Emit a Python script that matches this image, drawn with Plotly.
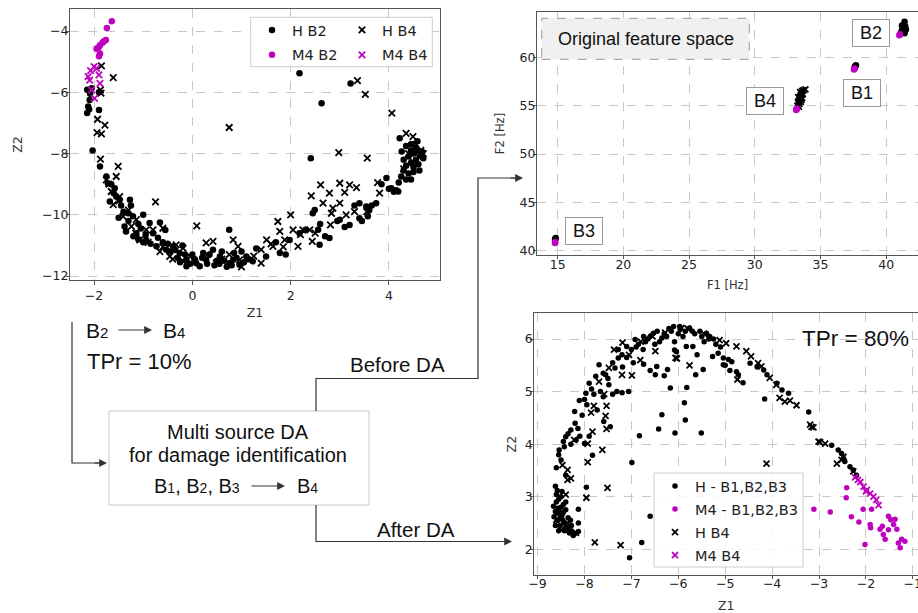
import plotly.graph_objects as go

# ---------------- Panel A : B2 -> B4, TPr = 10% ----------------
a_h_b2 = [(-2.10,-5.95),(-2.14,-5.92),(-2.05,-5.87),(-2.09,-6.25),(-2.12,-6.46),(-2.14,-6.68),(-2.10,-6.55),
          (-2.08,-6.05),(-1.90,-6.58),(-2.03,-7.90),(-1.88,-8.42),(-1.90,-6.00),
          (-1.75,-8.75),(-1.72,-8.97),(-1.58,-9.13),(-1.68,-9.57),(-1.48,-9.51),(-1.27,-9.51),(-1.31,-9.95),
          (-1.21,-10.05),(-1.00,-10.00),(-1.38,-10.38),(-1.14,-10.60),(-0.87,-10.27),(-0.66,-10.25),(-0.94,-10.82),
          (-0.73,-11.03),(-0.53,-11.14),(-0.39,-11.03),(-0.26,-11.25),(-0.12,-11.47),(0.08,-11.58),(0.22,-11.25),
          (0.42,-11.14),(0.56,-11.36),(0.76,-11.58),(0.96,-11.63),(1.10,-11.36),(0.75,-10.49),(0.15,-11.68),
          (-0.12,-11.68),(0.28,-11.47),(0.83,-11.47),(1.23,-11.52),(1.50,-11.36),(1.78,-11.25),(1.98,-10.82),
          (2.18,-10.60),(2.45,-9.95),(2.49,-9.84),(2.56,-10.49),(2.59,-10.98),(2.79,-10.76),(3.00,-10.16),
          (3.20,-10.33),(3.40,-10.11),(3.40,-9.62),(3.57,-10.05),(3.54,-9.73),(3.74,-9.62),(3.95,-8.80),
          (4.05,-9.13),(4.19,-9.24),
          (-1.60,-9.30),(-1.45,-9.70),(-1.10,-10.30),(-0.80,-10.60),(-0.60,-10.90),(-0.45,-11.20),(-0.30,-11.40),
          (0.00,-11.30),(0.30,-11.60),(0.50,-11.50),(0.60,-11.20),(0.90,-11.40),(1.00,-11.20),(0.70,-11.70),
          (-0.20,-11.00),(-1.20,-10.70),(-1.00,-10.90),(-0.55,-10.50),(1.30,-11.10),(1.70,-10.90),(1.90,-11.30),
          (2.30,-10.50),(2.60,-10.30),(2.70,-10.70),(3.10,-10.40),(3.30,-9.70),(3.60,-9.85),(3.85,-9.00),(4.10,-9.25),
          (-1.65,-9.00),(-1.55,-9.40),(-1.40,-9.90),(-1.30,-10.20),(-1.05,-10.45),(-0.95,-10.65),(-0.85,-10.95),
          (-0.70,-10.75),(-0.50,-10.95),(-0.35,-11.15),(-0.15,-11.30),(0.05,-11.45),(0.20,-11.40),(0.35,-11.30),
          (0.45,-11.65),(0.65,-11.50),(0.85,-11.25),(1.05,-11.55),(0.80,-11.65),(0.55,-11.60),(-0.05,-11.60),
          (-0.25,-11.55),(1.15,-11.45),(-1.25,-9.70),(-1.50,-10.10),(-1.35,-10.55),(-1.10,-10.80),(3.65,-9.70),
          (3.45,-10.20),(2.95,-10.20),(4.00,-9.15),(4.15,-9.20),(4.45,-8.85),(4.20,-8.95),
          (4.22,-7.50),(4.26,-7.93),(4.35,-7.75),(4.45,-7.70),(4.55,-7.80),(4.60,-7.90),(4.50,-8.00),(4.40,-8.10),
          (4.65,-8.05),(4.55,-8.20),(4.45,-8.30),(4.35,-8.40),(4.30,-8.55),(4.40,-8.65),(4.50,-8.45),(4.60,-8.35),
          (4.70,-8.15),(4.25,-8.75),(4.35,-8.85),(4.50,-8.60),(4.62,-8.55),(4.45,-7.90),(4.58,-7.60),(4.68,-7.95),
          (4.30,-8.20),
          (2.18,-5.38),(2.63,-6.36),(3.22,-5.71),(2.41,-8.15)]
a_h_b4 = [(-1.85,-5.14),(-1.61,-5.52),(-1.87,-5.92),(-1.86,-6.03),(-1.93,-6.88),(-1.78,-7.07),(-1.94,-7.32),
          (-1.85,-7.36),(-1.87,-8.18),(-1.51,-8.42),(-0.75,-9.58),(0.75,-7.15),(3.36,-5.62),(3.52,-6.07),
          (4.06,-6.68),(2.98,-7.97),(3.56,-8.15),(4.35,-7.34),(4.49,-7.45),(0.09,-10.36),(2.42,-9.38),(2.61,-9.02),
          (2.79,-9.29),(3.00,-8.97),(3.20,-9.02),(3.34,-9.11),(3.10,-9.27),(3.77,-8.95),(3.81,-9.29),(2.66,-9.62),
          (3.00,-9.62),(2.83,-9.95),(2.86,-9.78),(3.13,-10.00),(2.81,-10.33),(2.00,-10.00),(1.74,-10.22),
          (1.78,-10.54),(2.05,-10.49),(2.25,-10.49),(2.39,-10.49),(2.44,-10.87),(2.15,-11.03),(1.88,-10.82),
          (1.51,-10.82),(1.64,-11.03),(1.40,-11.14),(1.40,-11.58),(0.83,-10.82),(0.93,-11.03),(0.42,-10.87),
          (0.28,-10.92),(-0.33,-10.98),(-0.60,-10.44),(-0.80,-10.49),(-0.94,-10.49),(-1.14,-10.16),(-1.24,-10.38),
          (-1.41,-10.05),(-1.61,-9.67),(-1.48,-9.41),(-1.75,-8.86),(-1.55,-8.75),(-1.65,-9.24),(-1.07,-10.82),
          (-0.66,-11.20),(-0.46,-11.36),(-0.05,-11.36),(0.49,-11.58),(0.96,-11.47),(-0.19,-11.09),(4.55,-7.70),
          (4.65,-7.90),(4.60,-8.10),(4.70,-8.00),(4.40,-8.00),(4.50,-8.30),(4.30,-8.50),
          (-1.70,-9.00),(-1.50,-9.55),(-1.30,-9.85),(-1.15,-10.60),(-0.90,-10.90),(-0.60,-11.05),(-0.40,-11.45),
          (-0.20,-11.50),(0.05,-11.55),(0.30,-11.30),(0.60,-11.45),(0.75,-11.30),(1.00,-11.70),(1.25,-11.35),
          (1.60,-10.95),(1.85,-11.05),(2.20,-10.65),(2.50,-10.60),(3.30,-9.90),(3.55,-9.90)]
a_m4_b2 = [(-1.64,-3.68),(-1.74,-3.90),(-1.76,-4.29),(-1.83,-4.38),(-1.88,-4.46),(-1.91,-4.54),(-1.88,-4.73),
           (-1.90,-4.82),(-1.95,-4.58),(-1.80,-4.33)]
a_m4_b4 = [(-2.07,-5.29),(-2.00,-5.16),(-1.90,-5.43),(-2.09,-5.60),(-1.95,-5.22),(-2.05,-5.92),(-1.99,-6.20),
           (-1.88,-5.71),(-2.12,-5.49)]
a_xticks = [-2, 0, 2, 4]
a_yticks = [-12, -10, -8, -6, -4]

# ---------------- Panel B : original feature space ----------------
b_h = [(37.60,59.00),(37.65,59.10),(37.70,59.20),(37.62,58.95),
       (41.10,62.50),(41.20,62.80),(41.30,63.10),(41.35,63.40),(41.40,63.70),(41.45,63.20),(41.50,62.90),
       (41.25,62.60),(41.40,62.50),(41.20,63.30),
       (14.82,41.20),(14.85,41.30),(14.80,41.10)]
b_m4 = [(37.55,58.75),(37.60,58.85),(41.00,62.30),(41.05,62.40),(14.80,40.80),(14.82,40.90),
        (33.15,54.55),(33.20,54.70)]
b_h_b4 = [(33.25,55.0),(33.30,55.3),(33.35,55.5),(33.40,55.7),(33.45,55.9),(33.50,56.1),(33.55,56.3),
          (33.60,56.5),(33.70,56.6),(33.85,56.7),(33.30,55.9),(33.50,55.4),(33.60,55.8),(33.40,55.2),
          (33.35,54.9),(33.55,55.6),(33.65,56.2),(33.45,56.4)]
b_m4_b4 = [(33.18,54.60)]
b_labels = ["B1", "B2", "B3", "B4"]
b_label_pos = [(38.18, 56.34), (38.82, 62.56), (17.0, 42.04), (30.76, 55.51)]
b_xticks = [15, 20, 25, 30, 35, 40]
b_yticks = [40, 45, 50, 55, 60]

# ---------------- Panel C : after DA, TPr = 80% ----------------
c_h = [(-8.62,3.20),(-8.60,3.04),(-8.66,2.82),(-8.56,2.69),(-8.47,2.56),(-8.39,2.43),(-8.32,2.31),(-8.24,2.26),
       (-8.13,2.34),(-8.13,2.50),(-8.13,2.76),(-7.96,3.18),(-8.55,2.95),(-8.50,2.80),(-8.45,2.70),(-8.58,2.55),
       (-8.52,2.45),(-8.42,2.35),(-8.65,2.62),(-8.48,3.10),(-8.40,2.90),(-8.35,2.60),(-8.28,2.45),(-8.55,2.35),
       (-8.62,2.72),
       (-8.58,3.12),(-8.50,3.00),(-8.45,2.85),(-8.60,2.90),(-8.52,2.60),(-8.44,2.50),(-8.36,2.40),(-8.28,2.35),
       (-8.20,2.30),(-8.48,2.65),(-8.56,2.78),(-8.40,2.75),(-8.30,2.55),(-8.62,2.45),
       (-8.40,3.41),(-8.50,3.70),(-8.54,3.89),(-8.43,3.95),(-8.29,4.00),(-8.40,4.14),(-8.29,4.27),(-8.14,4.30),
       (-8.18,4.08),(-8.00,4.01),(-7.83,3.79),(-8.21,4.62),(-8.11,4.83),(-7.97,4.97),(-7.90,5.16),(-7.76,5.29),
       (-7.69,5.51),(-7.55,5.32),(-7.48,5.13),(-7.66,5.00),(-7.73,4.65),(-7.59,4.43),(-7.45,4.33),(-7.31,5.00),
       (-7.20,4.98),(-7.06,5.00),(-7.28,5.64),(-7.19,5.47),(-7.28,5.80),(-7.10,5.86),(-6.96,5.55),(-6.74,5.52),
       (-6.92,5.99),(-6.74,6.05),(-6.53,6.11),(-6.35,6.02),(-6.46,5.48),(-6.49,5.32),(-6.23,5.42),(-6.17,5.07),
       (-6.04,5.76),(-6.35,4.56),(-6.42,4.29),(-6.07,4.21),(-6.83,4.16),(-6.99,3.65),(-6.60,2.63),(-6.78,2.13),
       (-7.04,1.84),(-6.10,6.24),(-5.96,6.18),
       (-5.97,6.24),(-5.76,6.21),(-5.54,6.15),(-5.40,6.11),(-5.33,6.05),(-5.69,5.86),(-6.08,5.95),(-6.08,5.79),
       (-5.83,5.86),(-5.27,5.67),(-5.15,5.73),(-5.04,5.64),(-4.93,5.61),(-4.86,5.57),(-5.04,5.51),(-4.76,5.38),
       (-4.72,5.32),(-4.62,5.17),(-5.47,5.42),(-5.63,5.32),(-5.82,5.08),(-5.87,4.79),(-5.85,4.46),(-5.51,4.21),
       (-4.16,4.86),(-4.47,5.54),(-4.32,5.47),(-4.18,5.41),(-4.11,5.32),(-3.90,5.16),(-3.79,5.03),(-3.65,4.97),
       (-3.22,4.61),(-2.73,3.98),(-2.59,3.89),(-2.52,3.82),(-2.48,3.73),(-2.45,3.67),(-2.34,3.57),(-2.27,3.51),
       (-2.20,3.41),
       (-7.00,5.80),(-6.85,5.90),(-6.70,5.95),(-6.60,6.05),(-6.45,6.15),(-6.30,6.10),(-6.20,6.20),(-6.00,6.10),
       (-5.85,6.15),(-5.65,6.10),(-5.50,6.05),(-5.35,6.00),(-5.20,5.90),(-5.10,5.85),(-6.40,5.95),(-6.75,5.80),
       (-7.10,5.65),(-7.35,5.45),(-7.50,5.25),(-7.80,4.95),(-7.95,4.75),(-8.05,4.55),(-8.20,4.40),(-8.35,4.20),
       (-8.45,4.05),(-8.55,3.80),(-8.60,3.55),(-8.10,4.15),(-7.90,4.15),(-7.60,4.90),(-7.40,4.95),(-6.60,5.40),
       (-6.30,5.30),(-5.60,5.70),(-5.00,5.50),(-4.90,5.40),
       (-6.90,5.85),(-6.65,6.00),(-6.50,5.90),(-6.25,6.05),(-6.15,6.15),(-5.90,6.05),(-5.70,6.15),(-5.45,5.95),
       (-5.25,6.00),(-7.20,5.70),(-7.40,5.55),(-7.60,5.35),(-7.85,5.05),(-8.00,4.85)]
c_m4 = [(-2.41,3.17),(-2.42,2.98),(-3.11,2.76),(-2.76,2.71),(-2.31,2.62),(-2.15,2.52),(-2.06,2.76),(-1.88,2.76),
        (-2.02,2.09),(-1.91,2.47),(-1.90,2.41),(-1.70,2.38),(-1.63,2.28),(-1.59,2.19),(-1.52,2.63),(-1.47,2.56),
        (-1.41,2.47),(-1.34,2.38),(-1.52,2.37),(-1.31,2.12),(-1.24,2.19),(-1.17,2.15),(-1.27,2.03),(-1.65,2.44),
        (-1.38,2.57)]
c_h_b4 = [(-8.29,3.35),(-7.93,4.01),(-7.93,3.66),(-7.96,2.98),(-7.78,2.13),(-7.23,2.08),(-7.51,3.17),(-7.62,3.89),
          (-7.53,4.29),(-7.55,4.54),(-7.53,4.73),(-7.58,4.95),(-7.80,4.73),(-7.86,4.60),(-7.48,5.45),(-7.20,5.32),
          (-6.99,5.31),(-6.81,5.60),(-6.03,5.63),(-8.36,3.32),(-8.40,3.04),(-8.56,2.69),(-8.36,2.50),(-8.18,2.31),
          (-8.50,2.37),(-8.60,2.56),(-8.47,3.60),(-8.36,3.51),(-8.22,4.08),(-7.83,4.24),(-7.69,5.19),(-7.37,5.80),
          (-7.19,5.93),(-6.49,5.77),(-6.28,6.12),(-5.93,6.21),
          (-6.06,5.64),(-5.76,5.50),(-4.74,5.23),(-5.12,5.98),(-4.98,5.92),(-4.76,5.86),(-4.55,5.77),(-4.45,5.67),
          (-4.30,5.54),(-4.23,5.48),(-4.05,5.26),(-3.91,5.13),(-3.84,4.88),(-3.73,4.81),(-3.62,4.83),(-3.48,4.74),
          (-4.12,3.63),(-3.19,4.37),(-3.12,4.32),(-3.01,4.05),(-3.16,4.33),(-2.98,4.04),(-2.87,4.01),(-2.62,3.63),
          (-2.52,3.70),(-2.48,3.76),(-2.27,3.48),
          (-6.55,6.05),(-6.80,5.95),(-5.80,6.20),(-5.45,6.10),(-7.05,5.70)]
c_m4_b4 = [(-2.23,3.37),(-2.12,3.28),(-2.05,3.19),(-1.98,3.13),(-1.91,3.06),(-1.84,3.00),(-1.78,2.94),
           (-1.73,2.84),(-2.00,3.10),(-2.17,3.32)]
c_xticks = [-9, -8, -7, -6, -5, -4, -3, -2, -1]
c_yticks = [2, 3, 4, 5, 6]

BLACK = "#000000"
MAG = "#bf00bf"
W, H = 918, 613
def fx(p):
    return p / W
def fy(p):
    return 1 - p / H
def xs(pts):
    return [p[0] for p in pts]
def ys(pts):
    return [p[1] for p in pts]

fig = go.Figure()

def dots(pts, name, color, size, xa, ya, legend, show=True):
    fig.add_trace(go.Scatter(x=xs(pts), y=ys(pts), mode="markers", name=name, xaxis=xa, yaxis=ya,
                             legend=legend, showlegend=show, legendgroup=name + xa,
                             marker=dict(symbol="circle", size=size, color=color, line=dict(width=0))))

def crosses(pts, name, color, size, xa, ya, legend, show=True):
    fig.add_trace(go.Scatter(x=xs(pts), y=ys(pts), mode="markers", name=name, xaxis=xa, yaxis=ya,
                             legend=legend, showlegend=show, legendgroup=name + xa,
                             marker=dict(symbol="x-thin", size=size, color=color,
                                         line=dict(width=1.8, color=color))))

# Panel A
dots(a_h_b2, "H B2", BLACK, 6.5, "x", "y", "legend")
crosses(a_h_b4, "H B4", BLACK, 6.5, "x", "y", "legend3")
dots(a_m4_b2, "M4 B2", MAG, 6.5, "x", "y", "legend")
crosses(a_m4_b4, "M4 B4", MAG, 6.5, "x", "y", "legend3")
# Panel B
crosses(b_h_b4, "H B4", BLACK, 6, "x2", "y2", "legend", False)
dots(b_h, "H", BLACK, 6.5, "x2", "y2", "legend", False)
dots(b_m4, "M4", MAG, 6.5, "x2", "y2", "legend", False)
dots(b_m4_b4, "M4 B4", MAG, 6.5, "x2", "y2", "legend", False)
# Panel C
dots(c_h, "H - B1,B2,B3", BLACK, 5.5, "x3", "y3", "legend2")
dots(c_m4, "M4 - B1,B2,B3", MAG, 5.5, "x3", "y3", "legend2")
crosses(c_h_b4, "H B4", BLACK, 6, "x3", "y3", "legend2")
crosses(c_m4_b4, "M4 B4", MAG, 6, "x3", "y3", "legend2")

tickfont = dict(family="DejaVu Sans", size=12.5, color="#222")
titlefont = dict(family="DejaVu Sans", size=12.5, color="#333")
common = dict(showline=True, linecolor="#555", linewidth=1, ticks="outside", tickcolor="#555",
              showgrid=True, gridcolor="#c8c8c8", griddash="dash", gridwidth=1, zeroline=False,
              tickfont=tickfont, automargin=False, ticklabeloverflow="allow")
smallt = dict(family="DejaVu Sans", size=11.5, color="#333")

fig.update_layout(
    width=W, height=H, margin=dict(l=0, r=0, t=0, b=0),
    paper_bgcolor="white", plot_bgcolor="white",
    xaxis=dict(domain=[fx(70), fx(440)], range=[-2.49, 5.04], tickvals=a_xticks, mirror=True, anchor="y",
               ticklen=4, title=dict(text="Z1", font=titlefont, standoff=6), **common),
    yaxis=dict(domain=[fy(280), fy(9)], range=[-12.13, -3.28], tickvals=a_yticks, mirror=True, anchor="x",
               ticklen=3, ticklabelstandoff=-5, title=dict(text="Z2", font=titlefont, standoff=16), **common),
    xaxis2=dict(domain=[fx(537), 1], range=[13.43, 42.42], tickvals=b_xticks, mirror=True, anchor="y2",
                ticklen=3, ticklabelstandoff=-5, title=dict(text="F1 [Hz]", font=smallt, standoff=9), **common),
    yaxis2=dict(domain=[fy(255), fy(12)], range=[39.55, 64.7], tickvals=b_yticks, mirror=False, anchor="x2",
                ticklen=3, ticklabelstandoff=-5, title=dict(text="F2 [Hz]", font=smallt, standoff=12), **common),
    xaxis3=dict(domain=[fx(534.3), 1], range=[-9.07, -0.89], tickvals=c_xticks, mirror=True, anchor="y3",
                ticklen=3, ticklabelstandoff=-6, title=dict(text="Z1", font=titlefont, standoff=11), **common),
    yaxis3=dict(domain=[fy(575), fy(313.3)], range=[1.51, 6.49], tickvals=c_yticks, mirror=False, anchor="x3",
                ticklen=3, ticklabelstandoff=-5, title=dict(text="Z2", font=titlefont, standoff=5), **common),
    legend=dict(x=fx(252), y=fy(14), xanchor="left", yanchor="top", bgcolor="rgba(0,0,0,0)", borderwidth=0,
                font=dict(family="DejaVu Sans", size=14.5, color="#222"), tracegroupgap=3),
    legend3=dict(x=fx(342), y=fy(14), xanchor="left", yanchor="top", bgcolor="rgba(0,0,0,0)", borderwidth=0,
                 font=dict(family="DejaVu Sans", size=14.5, color="#222"), tracegroupgap=3),
    legend2=dict(x=fx(655), y=fy(470), xanchor="left", yanchor="top", bgcolor="rgba(0,0,0,0)", borderwidth=0,
                 font=dict(family="DejaVu Sans", size=14.5, color="#222"), tracegroupgap=1.2),
)

ARIAL = "Liberation Sans, Arial, sans-serif"
LINE = "#333333"
shapes = []
# legend frames
shapes.append(dict(type="rect", xref="paper", yref="paper", x0=fx(250.7), x1=fx(432.3), y0=fy(66.7), y1=fy(17.3),
                   line=dict(color="#cccccc", width=1), fillcolor="white", layer="above"))
shapes.append(dict(type="rect", xref="paper", yref="paper", x0=fx(654), x1=fx(803), y0=fy(567), y1=fy(473),
                   line=dict(color="#cccccc", width=1), fillcolor="rgba(255,255,255,0.85)", layer="above"))
# "Original feature space" box
shapes.append(dict(type="rect", xref="paper", yref="paper", x0=fx(541.7), x1=fx(749.3), y0=fy(59.3), y1=fy(18.3),
                   line=dict(color="#999999", width=1, dash="dash"), fillcolor="#f0f0f0", layer="above"))
# Multi-source DA box
shapes.append(dict(type="rect", xref="paper", yref="paper", x0=fx(109), x1=fx(369), y0=fy(505), y1=fy(411),
                   line=dict(color="#c8c8c8", width=1), fillcolor="white", layer="above"))
def poly(points):
    d = "M " + " L ".join(f"{fx(a):.5f},{fy(b):.5f}" for a, b in points)
    shapes.append(dict(type="path", xref="paper", yref="paper", path=d, line=dict(color=LINE, width=1.2),
                       layer="above"))
poly([(72, 322), (72, 463), (104, 463)])
poly([(316, 411), (316, 378.5), (478, 378.5), (478, 178), (520, 178)])
poly([(316, 505), (316, 541.5), (509, 541.5)])
fig.update_layout(shapes=shapes)

anns = []
def arrow(x, y, ax):
    anns.append(dict(x=fx(x), y=fy(y), xref="paper", yref="paper", ax=ax, ay=0, showarrow=True, arrowhead=2,
                     arrowsize=1.3, arrowwidth=1.2, arrowcolor=LINE, text=""))
def label(x, y, text, size, xanchor="center", **kw):
    anns.append(dict(x=fx(x), y=fy(y), xref="paper", yref="paper", text=text, showarrow=False, xanchor=xanchor,
                     yanchor="middle", font=dict(family=ARIAL, size=size, color="#111"), **kw))

arrow(107, 463, -14)
arrow(523, 178, -14)
arrow(512, 541.5, -14)
# B2 -> B4
label(96.5, 330, "B<span style='font-size:15px'>2</span>", 21)
arrow(152, 330, -35)
label(173.5, 330, "B<span style='font-size:15px'>4</span>", 21)
label(85, 361, "TPr = 10%", 22, xanchor="left")
label(855, 338, "TPr = 80%", 22.5)
label(397, 364, "Before DA", 20.5)
label(416, 529, "After DA", 20.5)
label(238, 432, "Multi source DA", 20)
label(238, 455, "for damage identification", 20)
label(197, 486, "B<span style='font-size:14px'>1</span>, B<span style='font-size:14px'>2</span>, "
                "B<span style='font-size:14px'>3</span>", 20)
arrow(285, 486, -35)
label(307.5, 486, "B<span style='font-size:14px'>4</span>", 20)
label(645.5, 39, "Original feature space", 18)
fig.update_layout(annotations=anns)

for txt, (lx, ly) in zip(b_labels, b_label_pos):
    fig.add_annotation(x=lx, y=ly, xref="x2", yref="y2", text=txt, showarrow=False,
                       font=dict(family=ARIAL, size=18, color="#111"), bgcolor="white",
                       bordercolor="#999999", borderwidth=1, borderpad=0, width=36, height=26)

fig.write_html("out.html", config={"displayModeBar": False},
               post_script="document.body.style.margin='0px';document.body.style.overflow='hidden';")
